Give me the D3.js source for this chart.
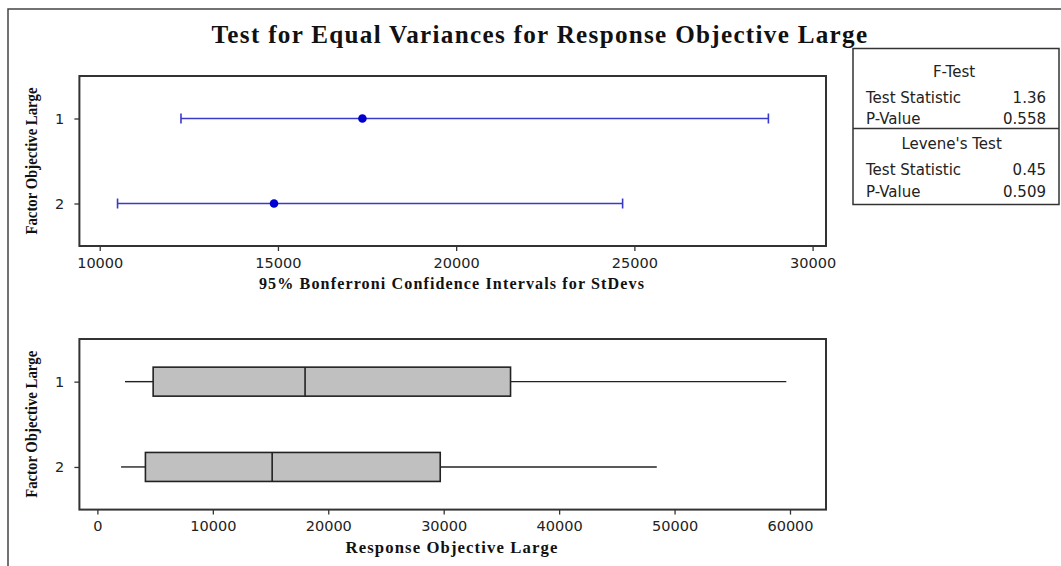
<!DOCTYPE html>
<html><head><meta charset="utf-8">
<script src="https://cdn.jsdelivr.net/npm/d3@7"></script>
<style>body{margin:0;background:#fff}svg{display:block}</style>
</head><body><svg id="c" width="1061" height="566"></svg>
<script>
const groups = ["1", "2"];
const ciLower = [12280, 10500];
const ciStDev = [17370, 14890];
const ciUpper = [28760, 24670];
const ciTicks = [10000, 15000, 20000, 25000, 30000];
const boxMin = [2390, 2050];
const boxQ1 = [4830, 4160];
const boxMedian = [17990, 15140];
const boxQ3 = [35790, 29700];
const boxMax = [59680, 48460];
const boxTicks = [0, 10000, 20000, 30000, 40000, 50000, 60000];
const title = "Test for Equal Variances for Response Objective Large";
const ciAxisTitle = "95% Bonferroni Confidence Intervals for StDevs";
const boxAxisTitle = "Response Objective Large";
const yAxisTitle = "Factor Objective Large";
const fTestLabels = ["Test Statistic", "P-Value"];
const fTestValues = ["1.36", "0.558"];
const leveneLabels = ["Test Statistic", "P-Value"];
const leveneValues = ["0.45", "0.509"];

const svg = d3.select("#c");
const serif = "'Liberation Serif','Times New Roman',serif";
const sans = "'DejaVu Sans',Verdana,sans-serif";
const axisCol = "#333";

// fit a text's font size so its natural width equals target
function fit(sel, target, base) {
  sel.attr("font-size", base);
  const w = sel.node().getComputedTextLength();
  sel.attr("font-size", base * target / w);
  return sel;
}

// outer border
svg.append("rect").attr("x", 8).attr("y", 9).attr("width", 1100).attr("height", 600)
  .attr("fill", "none").attr("stroke", "#444").attr("stroke-width", 1.5);

// title
fit(svg.append("text").attr("x", 540).attr("y", 43).attr("text-anchor", "middle")
  .attr("font-family", serif).attr("font-weight", "bold")
  .attr("fill", "#111").attr("letter-spacing", 1.3).text(title), 667, 22);

function panel(top, bottom, xDomain, ticks, axisTitle, axisTitleY, axisTitleW) {
  const L = 79.4, R = 826;
  const x = d3.scaleLinear().domain(xDomain).range([L, R]);
  const y = d3.scalePoint().domain(groups).range([top, bottom]).padding(0.5);
  const g = svg.append("g");
  const xa = g.append("g").attr("transform", `translate(0,${bottom})`)
    .call(d3.axisBottom(x).tickValues(ticks).tickFormat(d3.format("d")).tickSize(5).tickSizeOuter(0));
  const ya = g.append("g").attr("transform", `translate(${L},0)`)
    .call(d3.axisLeft(y).tickSize(5).tickSizeOuter(0));
  [xa, ya].forEach(a => {
    a.select(".domain").remove();
    a.selectAll("line").attr("stroke", axisCol).attr("stroke-width", 1.3);
    a.selectAll("text").attr("font-family", sans).attr("font-size", 14.5).attr("fill", "#222");
  });
  xa.selectAll("text").attr("dy", "0.95em");
  ya.selectAll("text").attr("dx", "-0.5em");
  g.append("rect").attr("x", L).attr("y", top).attr("width", R - L).attr("height", bottom - top)
    .attr("fill", "none").attr("stroke", axisCol).attr("stroke-width", 2);
  fit(g.append("text").attr("x", 452).attr("y", axisTitleY).attr("text-anchor", "middle")
    .attr("font-family", serif).attr("font-weight", "bold").attr("fill", "#111")
    .attr("letter-spacing", 1.1).text(axisTitle), axisTitleW, 15);
  const cy = (top + bottom) / 2;
  g.append("text").attr("transform", `translate(37,${cy}) rotate(-90)`).attr("text-anchor", "middle")
    .attr("font-family", serif).attr("font-weight", "bold").attr("font-size", 16.5).attr("fill", "#111")
    .attr("textLength", 147).attr("lengthAdjust", "spacingAndGlyphs").text(yAxisTitle);
  return {x, y, g};
}

// top panel: confidence intervals
const p1 = panel(76, 246, [9430, 30376], ciTicks, ciAxisTitle, 289, 390);
const blue = "#3a3ac8";
groups.forEach((gName, i) => {
  const yy = p1.y(gName);
  p1.g.append("line").attr("x1", p1.x(ciLower[i])).attr("x2", p1.x(ciUpper[i])).attr("y1", yy).attr("y2", yy)
    .attr("stroke", blue).attr("stroke-width", 1.5);
  [ciLower[i], ciUpper[i]].forEach(v => p1.g.append("line").attr("x1", p1.x(v)).attr("x2", p1.x(v))
    .attr("y1", yy - 5).attr("y2", yy + 5).attr("stroke", blue).attr("stroke-width", 1.6));
  p1.g.append("circle").attr("cx", p1.x(ciStDev[i])).attr("cy", yy).attr("r", 4.3).attr("fill", "#0000d0");
});

// bottom panel: boxplots
const p2 = panel(339, 509.6, [-1559, 63119], boxTicks, boxAxisTitle, 553, 216);
groups.forEach((gName, i) => {
  const yy = p2.y(gName);
  const h = 29;
  p2.g.append("line").attr("x1", p2.x(boxMin[i])).attr("x2", p2.x(boxQ1[i])).attr("y1", yy).attr("y2", yy)
    .attr("stroke", "#222").attr("stroke-width", 1.4);
  p2.g.append("line").attr("x1", p2.x(boxQ3[i])).attr("x2", p2.x(boxMax[i])).attr("y1", yy).attr("y2", yy)
    .attr("stroke", "#222").attr("stroke-width", 1.4);
  p2.g.append("rect").attr("x", p2.x(boxQ1[i])).attr("y", yy - h / 2)
    .attr("width", p2.x(boxQ3[i]) - p2.x(boxQ1[i])).attr("height", h)
    .attr("fill", "#c0c0c0").attr("stroke", "#222").attr("stroke-width", 1.6);
  p2.g.append("line").attr("x1", p2.x(boxMedian[i])).attr("x2", p2.x(boxMedian[i]))
    .attr("y1", yy - h / 2).attr("y2", yy + h / 2).attr("stroke", "#222").attr("stroke-width", 1.6);
});

// stats box
const sb = svg.append("g");
const bL = 853, bR = 1059, bT = 48.5, bB = 204.5, bMid = 128.5;
sb.append("rect").attr("x", bL).attr("y", bT).attr("width", bR - bL).attr("height", bB - bT)
  .attr("fill", "#fff").attr("stroke", "#333").attr("stroke-width", 1.5);
sb.append("line").attr("x1", bL).attr("x2", bR).attr("y1", bMid).attr("y2", bMid)
  .attr("stroke", "#333").attr("stroke-width", 1.5);
function st(x, y, t, anchor) {
  sb.append("text").attr("x", x).attr("y", y).attr("dy", "0.36em").attr("text-anchor", anchor || "start")
    .attr("font-family", sans).attr("font-size", 15).attr("fill", "#222").text(t);
}
st(954, 71.7, "F-Test", "middle");
fTestLabels.forEach((t, i) => { st(866, [97.4, 118.3][i], t); st(1046, [97.4, 118.3][i], fTestValues[i], "end"); });
st(951.6, 143.7, "Levene's Test", "middle");
leveneLabels.forEach((t, i) => { st(866, [170, 191.7][i], t); st(1046, [170, 191.7][i], leveneValues[i], "end"); });
</script></body></html>
